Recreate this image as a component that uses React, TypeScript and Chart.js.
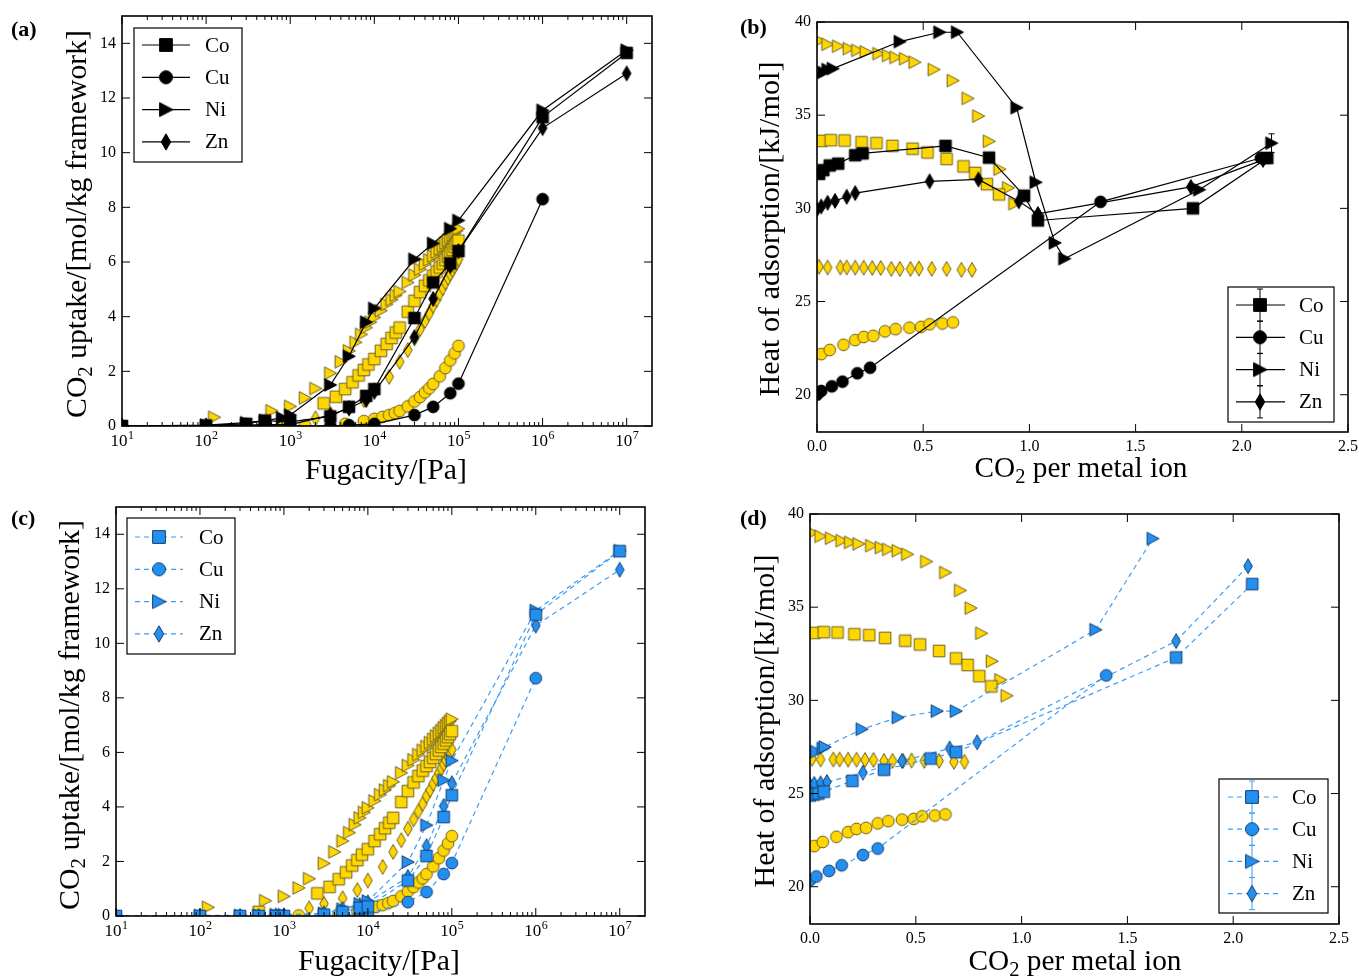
import React, { useEffect, useRef } from 'react';
import { Chart, registerables } from 'chart.js';
Chart.register(...registerables);

const SERIF = '"Liberation Serif", "Times New Roman", Times, serif';

// ---------------- DATA ----------------
// (a) experimental isotherms (black, solid)
const fA_Co = [10, 100, 300, 500, 1000, 3000, 5000, 8000, 10000, 30000, 50000, 80000, 100000, 1e6, 1e7];
const qA_Co = [0, 0.02, 0.08, 0.2, 0.15, 0.35, 0.7, 1.1, 1.35, 3.95, 5.25, 5.95, 6.4, 11.3, 13.65];
const fA_Cu = [10, 100, 300, 500, 1000, 3000, 5000, 10000, 30000, 50000, 80000, 100000, 1e6];
const qA_Cu = [0, 0, 0, 0, 0, 0, 0.03, 0.08, 0.4, 0.7, 1.2, 1.55, 8.3];
const fA_Ni = [10, 100, 300, 500, 800, 1000, 3000, 5000, 8000, 10000, 30000, 50000, 80000, 100000, 1e6, 1e7];
const qA_Ni = [0, 0.03, 0.12, 0.2, 0.3, 0.4, 1.5, 2.55, 3.8, 4.3, 6.1, 6.68, 7.22, 7.52, 11.55, 13.75];
const fA_Zn = [10, 100, 300, 500, 1000, 3000, 5000, 8000, 10000, 30000, 50000, 80000, 100000, 1e6, 1e7];
const qA_Zn = [0, 0.01, 0.03, 0.05, 0.05, 0.4, 0.65, 0.95, 1.25, 3.25, 4.65, 5.85, 6.4, 10.9, 12.9];

// (c) isotherms (blue, dashed)
const fC_Co = [10, 100, 300, 500, 800, 1000, 3000, 5000, 8000, 10000, 30000, 50000, 80000, 100000, 1e6, 1e7];
const qC_Co = [0, 0, 0, 0, 0, 0, 0.05, 0.15, 0.3, 0.35, 1.3, 2.2, 3.63, 4.43, 11.05, 13.38];
const fC_Cu = [10, 100, 300, 500, 800, 1000, 3000, 5000, 8000, 10000, 30000, 50000, 80000, 100000, 1e6];
const qC_Cu = [0, 0, 0, 0, 0, 0, 0, 0.03, 0.05, 0.08, 0.51, 0.88, 1.54, 1.94, 8.72];
const fC_Ni = [10, 100, 300, 500, 800, 1000, 3000, 5000, 8000, 10000, 30000, 50000, 80000, 100000, 1e6, 1e7];
const qC_Ni = [0, 0.02, 0.02, 0.03, 0.05, 0.05, 0.1, 0.25, 0.45, 0.55, 1.98, 3.33, 4.98, 5.7, 11.2, 13.4];
const fC_Zn = [10, 100, 300, 500, 800, 1000, 3000, 5000, 8000, 10000, 30000, 50000, 80000, 100000, 1e6, 1e7];
const qC_Zn = [0, 0, 0, 0, 0.02, 0.02, 0.1, 0.25, 0.4, 0.5, 1.43, 2.56, 4.03, 4.87, 10.65, 12.7];

// (a)/(c) reference isotherms (yellow markers)
const fSim_Co = [500, 2500, 3500, 4500, 5500, 6500, 7500, 8500, 10000, 12000, 14000, 16000, 18000, 20000, 25000, 30000, 35000, 40000, 45000, 50000, 55000, 60000, 65000, 70000, 75000, 80000, 85000, 90000, 95000, 100000];
const qSim_Co = [0.15, 0.83, 1.07, 1.35, 1.6, 1.85, 2.05, 2.25, 2.45, 2.75, 3.0, 3.22, 3.42, 3.6, 4.18, 4.58, 4.9, 5.13, 5.33, 5.5, 5.65, 5.8, 5.94, 6.07, 6.2, 6.32, 6.44, 6.56, 6.67, 6.78];
const fSim_Cu = [800, 1500, 4500, 7500, 10000, 12500, 15000, 17500, 20000, 25000, 30000, 35000, 40000, 45000, 50000, 60000, 70000, 80000, 90000, 100000];
const qSim_Cu = [0.0, 0.02, 0.08, 0.18, 0.26, 0.33, 0.4, 0.47, 0.55, 0.72, 0.9, 1.06, 1.23, 1.38, 1.54, 1.82, 2.12, 2.4, 2.66, 2.93];
const fSim_Ni = [125, 600, 1000, 1500, 2000, 3000, 4000, 5000, 6000, 7000, 8000, 9000, 10000, 12000, 14000, 16000, 18000, 20000, 25000, 30000, 35000, 40000, 45000, 50000, 55000, 60000, 65000, 70000, 75000, 80000, 85000, 90000, 95000, 100000];
const qSim_Ni = [0.32, 0.56, 0.72, 1.03, 1.37, 1.93, 2.35, 2.75, 3.06, 3.35, 3.6, 3.8, 3.97, 4.22, 4.45, 4.62, 4.78, 4.92, 5.25, 5.52, 5.73, 5.92, 6.08, 6.22, 6.36, 6.48, 6.6, 6.7, 6.8, 6.9, 6.98, 7.06, 7.14, 7.22];
const fSim_Zn = [2000, 3000, 5000, 7500, 10000, 15000, 20000, 25000, 30000, 35000, 40000, 45000, 50000, 55000, 60000, 65000, 70000, 75000, 80000, 85000, 90000, 95000, 100000];
const qSim_Zn = [0.28, 0.45, 0.65, 0.95, 1.3, 1.8, 2.35, 2.78, 3.2, 3.54, 3.84, 4.12, 4.4, 4.62, 4.85, 5.05, 5.25, 5.42, 5.57, 5.71, 5.85, 5.97, 6.1];

// (b) heats of adsorption (black, solid)
const nB_Co = [0.01, 0.03, 0.06, 0.1, 0.18, 0.215, 0.605, 0.81, 0.975, 1.04, 1.77, 2.12];
const hB_Co = [31.85, 32.05, 32.3, 32.4, 32.85, 32.95, 33.35, 32.72, 30.68, 29.35, 30.0, 32.7];
const nB_Cu = [0.0, 0.02, 0.07, 0.12, 0.19, 0.25, 1.335, 2.09];
const hB_Cu = [20.0, 20.2, 20.45, 20.7, 21.15, 21.45, 30.35, 32.7];
const nB_Ni = [0.0, 0.03, 0.05, 0.075, 0.39, 0.577, 0.66, 0.94, 1.03, 1.12, 1.165, 1.8, 2.14];
const hB_Ni = [37.15, 37.3, 37.45, 37.5, 38.95, 39.45, 39.45, 35.4, 31.4, 28.15, 27.3, 31.0, 33.5];
const nB_Zn = [0.0, 0.02, 0.05, 0.085, 0.14, 0.18, 0.53, 0.76, 0.95, 1.04, 1.76, 2.1];
const hB_Zn = [29.95, 30.1, 30.3, 30.4, 30.62, 30.82, 31.45, 31.55, 30.38, 29.7, 31.15, 32.6];
// error on the last point of Co, Cu, Ni, Zn in (b)
const errB_last = [0.3, 0.2, 0.5, 0.2];

// (d) heats of adsorption (blue, dashed)
const nD_Co = [0.0, 0.02, 0.04, 0.065, 0.2, 0.35, 0.57, 0.69, 1.73, 2.09];
const hD_Co = [24.9, 24.95, 25.0, 25.1, 25.68, 26.28, 26.88, 27.22, 32.3, 36.24];
const nD_Cu = [0.0, 0.03, 0.09, 0.15, 0.25, 0.32, 1.4];
const hD_Cu = [20.35, 20.55, 20.85, 21.15, 21.7, 22.05, 31.34];
const nD_Ni = [0.0, 0.03, 0.06, 0.07, 0.245, 0.415, 0.6, 0.69, 1.35, 1.62];
const hD_Ni = [27.15, 27.25, 27.42, 27.5, 28.45, 29.08, 29.42, 29.42, 33.79, 38.68];
const nD_Zn = [0.0, 0.02, 0.05, 0.08, 0.25, 0.435, 0.66, 0.79, 1.73, 2.07];
const hD_Zn = [25.45, 25.52, 25.55, 25.62, 26.12, 26.75, 27.42, 27.75, 33.18, 37.2];

// (b)/(d) reference heats (yellow markers)
const nSim_Co = [0.02, 0.065, 0.13, 0.21, 0.28, 0.355, 0.45, 0.52, 0.61, 0.69, 0.745, 0.8, 0.857];
const hSim_Co = [33.62, 33.66, 33.64, 33.55, 33.5, 33.35, 33.2, 33.0, 32.65, 32.25, 31.9, 31.3, 30.75];
const nSim_Cu = [0.02, 0.06, 0.125, 0.18, 0.22, 0.265, 0.32, 0.37, 0.435, 0.49, 0.53, 0.59, 0.64];
const hSim_Cu = [22.18, 22.4, 22.68, 22.93, 23.1, 23.16, 23.4, 23.52, 23.6, 23.64, 23.78, 23.82, 23.88];
const nSim_Ni = [0.01, 0.05, 0.1, 0.15, 0.19, 0.23, 0.29, 0.335, 0.37, 0.415, 0.46, 0.55, 0.64, 0.71, 0.76, 0.81, 0.86, 0.9, 0.93];
const hSim_Ni = [39.0, 38.8, 38.7, 38.57, 38.48, 38.4, 38.3, 38.2, 38.1, 38.03, 37.84, 37.45, 36.86, 35.9, 34.95, 33.6, 32.1, 31.1, 30.25];
const nSim_Zn = [0.01, 0.05, 0.11, 0.14, 0.18, 0.22, 0.26, 0.3, 0.35, 0.39, 0.44, 0.48, 0.54, 0.61, 0.68, 0.73];
const hSim_Zn = [26.87, 26.83, 26.83, 26.83, 26.82, 26.82, 26.8, 26.8, 26.75, 26.75, 26.75, 26.77, 26.75, 26.75, 26.7, 26.7];

// axes / ticks
const isoTicksY = [0, 2, 4, 6, 8, 10, 12, 14];
const isoDecades = [1, 2, 3, 4, 5, 6, 7];
const heatTicksY = [20, 25, 30, 35, 40];
const heatTicksX = [0, 0.5, 1.0, 1.5, 2.0, 2.5];
const metals = ['Co', 'Cu', 'Ni', 'Zn'];

// ---------------- STYLE ----------------
const YELLOW = '#FFD700';
const YELLOW_EDGE = '#6e6020';
const BLUE = '#2390f0';
const BLUE_EDGE = '#123f73';
const BLUE_LINE = '#3d9df5';

type Shape = 'sq' | 'ci' | 'tr' | 'di';
const SHAPES: Shape[] = ['sq', 'ci', 'tr', 'di'];

function makeMarker(shape: Shape, fill: string, edge: string, k = 1): HTMLCanvasElement {
  const S = 22;
  const c = document.createElement('canvas');
  c.width = S; c.height = S;
  const g = c.getContext('2d')!;
  g.translate(S / 2, S / 2);
  g.scale(k, k);
  g.beginPath();
  if (shape === 'sq') g.rect(-5.8, -5.8, 11.6, 11.6);
  else if (shape === 'ci') g.arc(0, 0, 5.9, 0, Math.PI * 2);
  else if (shape === 'tr') { g.moveTo(6.3, 0); g.lineTo(-5.8, -6.3); g.lineTo(-5.8, 6.3); g.closePath(); }
  else { g.moveTo(0, -7.4); g.lineTo(4.3, 0); g.lineTo(0, 7.4); g.lineTo(-4.3, 0); g.closePath(); }
  g.fillStyle = fill; g.fill();
  g.lineWidth = 1 / k; g.strokeStyle = edge; g.stroke();
  return c;
}

type Seg = { t: string; sub?: boolean };

function segsWidth(ctx: CanvasRenderingContext2D, segs: Seg[], size: number) {
  let w = 0;
  for (const s of segs) {
    ctx.font = `${s.sub ? size * 0.7 : size}px ${SERIF}`;
    w += ctx.measureText(s.t).width;
  }
  return w;
}

function drawTitle(ctx: CanvasRenderingContext2D, segs: Seg[], cx: number, cy: number, len: number, rot: boolean) {
  const size = (20 * len) / segsWidth(ctx, segs, 20);
  const tw = segsWidth(ctx, segs, size);
  ctx.save();
  ctx.translate(cx, cy);
  if (rot) ctx.rotate(-Math.PI / 2);
  ctx.textAlign = 'left';
  ctx.textBaseline = 'alphabetic';
  ctx.fillStyle = '#000';
  let x = -tw / 2;
  const base = size * 0.26;
  for (const s of segs) {
    const fs = s.sub ? size * 0.7 : size;
    ctx.font = `${fs}px ${SERIF}`;
    ctx.fillText(s.t, x, base + (s.sub ? size * 0.22 : 0));
    x += ctx.measureText(s.t).width;
  }
  ctx.restore();
}

interface Geo { ox: number; oy: number; w: number; h: number; l: number; t: number; r: number; b: number; }
interface Panel {
  geo: Geo;
  label: string; labelAt: [number, number];
  xTitle: Seg[]; xTitleAt: [number, number, number];
  yTitle: Seg[]; yTitleAt: [number, number, number];
  xLog: boolean; xMin: number; xMax: number; yMin: number; yMax: number;
  yTicks: number[];
  legend: { box: [number, number, number, number]; y0: number; dy: number; line: [number, number]; mx: number; tx: number; color: string; dash: number[]; err: boolean; markers: HTMLCanvasElement[] };
  errLast?: { ds: number[]; err: number[]; color: string };
  datasets: any[];
}

function decoPlugin(p: Panel) {
  return {
    id: 'deco' + p.label,
    afterDatasetsDraw(chart: any) {
      const ctx: CanvasRenderingContext2D = chart.ctx;
      const ca = chart.chartArea;
      const xs = chart.scales.x, ys = chart.scales.y;
      const { ox, oy } = p.geo;
      const L = ca.left, R = ca.right, T = ca.top, B = ca.bottom;
      ctx.save();
      ctx.strokeStyle = '#000';
      ctx.fillStyle = '#000';
      const line = (x1: number, y1: number, x2: number, y2: number) => {
        ctx.beginPath(); ctx.moveTo(x1, y1); ctx.lineTo(x2, y2); ctx.stroke();
      };
      if (p.errLast) {
        ctx.save();
        ctx.strokeStyle = p.errLast.color; ctx.lineWidth = 1;
        p.errLast.ds.forEach((di, k) => {
          const d = chart.data.datasets[di].data;
          const pt = d[d.length - 1];
          const x = xs.getPixelForValue(pt.x);
          const y1 = ys.getPixelForValue(pt.y - p.errLast!.err[k]);
          const y2 = ys.getPixelForValue(pt.y + p.errLast!.err[k]);
          line(x, y1, x, y2); line(x - 3, y1, x + 3, y1); line(x - 3, y2, x + 3, y2);
        });
        ctx.restore();
      }
      // frame
      ctx.lineWidth = 1.6;
      ctx.strokeRect(L, T, R - L, B - T);
      ctx.lineWidth = 1;
      // x ticks
      if (p.xLog) {
        for (const n of isoDecades) {
          const x = xs.getPixelForValue(Math.pow(10, n));
          line(x, B, x, B - 8); line(x, T, x, T + 8);
          for (let k = 2; k <= 9; k++) {
            const v = k * Math.pow(10, n);
            if (v >= p.xMax) break;
            const xm = xs.getPixelForValue(v);
            line(xm, B, xm, B - 4); line(xm, T, xm, T + 4);
          }
          ctx.font = `17px ${SERIF}`;
          const w1 = ctx.measureText('10').width;
          ctx.font = `12px ${SERIF}`;
          const w2 = ctx.measureText(String(n)).width;
          const sx = x - (w1 + w2) / 2;
          ctx.textAlign = 'left'; ctx.textBaseline = 'alphabetic';
          ctx.font = `17px ${SERIF}`;
          ctx.fillText('10', sx, B + 20);
          ctx.font = `12px ${SERIF}`;
          ctx.fillText(String(n), sx + w1 + 0.5, B + 13);
        }
      } else {
        ctx.textAlign = 'center'; ctx.textBaseline = 'alphabetic';
        ctx.font = `16px ${SERIF}`;
        for (const v of heatTicksX) {
          const x = xs.getPixelForValue(v);
          line(x, B, x, B - 8); line(x, T, x, T + 8);
          ctx.fillText(v.toFixed(1), x, B + 19);
        }
      }
      // y ticks
      ctx.textAlign = 'right'; ctx.textBaseline = 'middle';
      ctx.font = `16px ${SERIF}`;
      for (const v of p.yTicks) {
        const y = ys.getPixelForValue(v);
        line(L, y, L + 8, y); line(R, y, R - 8, y);
        ctx.fillText(String(v), L - 6, y);
      }
      // titles
      drawTitle(ctx, p.xTitle, p.xTitleAt[0] - ox, p.xTitleAt[1] - oy, p.xTitleAt[2], false);
      drawTitle(ctx, p.yTitle, p.yTitleAt[0] - ox, p.yTitleAt[1] - oy, p.yTitleAt[2], true);
      // panel label
      ctx.font = `bold 22px ${SERIF}`;
      ctx.textAlign = 'left'; ctx.textBaseline = 'middle';
      ctx.fillStyle = '#000';
      ctx.fillText(p.label, p.labelAt[0] - ox, p.labelAt[1] - oy);
      // legend
      const lg = p.legend;
      const [bx0, by0, bx1, by1] = lg.box;
      ctx.fillStyle = '#fff';
      ctx.fillRect(bx0 - ox, by0 - oy, bx1 - bx0, by1 - by0);
      ctx.strokeStyle = '#000'; ctx.lineWidth = 1.2;
      ctx.strokeRect(bx0 - ox, by0 - oy, bx1 - bx0, by1 - by0);
      metals.forEach((m, i) => {
        const y = lg.y0 + i * lg.dy - oy;
        ctx.save();
        ctx.strokeStyle = lg.color; ctx.lineWidth = 1.2;
        ctx.setLineDash(lg.dash);
        line(lg.line[0] - ox, y, lg.line[1] - ox, y);
        ctx.setLineDash([]);
        if (lg.err) {
          const x = lg.mx - ox;
          ctx.lineWidth = 1;
          line(x, y - 16, x, y + 16); line(x - 3, y - 16, x + 3, y - 16); line(x - 3, y + 16, x + 3, y + 16);
        }
        ctx.restore();
        const mk = lg.markers[i];
        ctx.drawImage(mk, lg.mx - ox - mk.width / 2, y - mk.height / 2);
        ctx.fillStyle = '#000';
        ctx.font = `21px ${SERIF}`;
        ctx.textAlign = 'left'; ctx.textBaseline = 'middle';
        ctx.fillText(m, lg.tx - ox, y + 1);
      });
      ctx.restore();
    },
  };
}

function pts(xs: number[], ys: number[]) {
  return xs.map((x, i) => ({ x, y: ys[i] }));
}

function ds(xs: number[], ys: number[], marker: HTMLCanvasElement, color: string | null, dash: number[] = []) {
  return {
    data: pts(xs, ys),
    showLine: !!color,
    borderColor: color || 'rgba(0,0,0,0)',
    backgroundColor: 'rgba(0,0,0,0)',
    borderWidth: 1.2,
    borderDash: dash,
    pointStyle: marker,
    pointRadius: 6,
    pointHoverRadius: 6,
    tension: 0,
  };
}

function buildPanels(): Panel[] {
  const mk = (fill: string, edge: string, k = 1) => SHAPES.map((s) => makeMarker(s, fill, edge, k));
  const blk = mk('#000', '#000');
  const yel = mk(YELLOW, YELLOW_EDGE);
  const blu = mk(BLUE, BLUE_EDGE);
  const blkL = mk('#000', '#000', 1.1);
  const bluL = mk(BLUE, BLUE_EDGE, 1.1);
  const dash = [5, 4];
  const isoTitle: Seg[] = [{ t: 'CO' }, { t: '2', sub: true }, { t: ' uptake/[mol/kg framework]' }];
  const fugTitle: Seg[] = [{ t: 'Fugacity/[Pa]' }];
  const heatTitle: Seg[] = [{ t: 'Heat of adsorption/[kJ/mol]' }];
  const perTitle: Seg[] = [{ t: 'CO' }, { t: '2', sub: true }, { t: ' per metal ion' }];

  const simIso = [
    ds(fSim_Co, qSim_Co, yel[0], null), ds(fSim_Cu, qSim_Cu, yel[1], null),
    ds(fSim_Ni, qSim_Ni, yel[2], null), ds(fSim_Zn, qSim_Zn, yel[3], null),
  ];
  const simHeat = [
    ds(nSim_Co, hSim_Co, yel[0], null), ds(nSim_Cu, hSim_Cu, yel[1], null),
    ds(nSim_Ni, hSim_Ni, yel[2], null), ds(nSim_Zn, hSim_Zn, yel[3], null),
  ];

  return [
    {
      geo: { ox: 0, oy: 0, w: 680, h: 488, l: 122, t: 16, r: 652, b: 426 },
      label: '(a)', labelAt: [11, 30],
      xTitle: fugTitle, xTitleAt: [386, 471, 162],
      yTitle: isoTitle, yTitleAt: [78, 224, 388],
      xLog: true, xMin: 10, xMax: 2e7, yMin: 0, yMax: 15, yTicks: isoTicksY,
      legend: { box: [134, 28, 242, 162], y0: 45, dy: 32.3, line: [142, 190], mx: 166, tx: 205, color: '#000', dash: [], err: false, markers: blkL },
      datasets: [
        ds(fA_Co, qA_Co, blk[0], '#000'), ds(fA_Cu, qA_Cu, blk[1], '#000'),
        ds(fA_Ni, qA_Ni, blk[2], '#000'), ds(fA_Zn, qA_Zn, blk[3], '#000'),
        ...simIso,
      ],
    },
    {
      geo: { ox: 680, oy: 0, w: 679, h: 488, l: 817, t: 22, r: 1348, b: 432 },
      label: '(b)', labelAt: [740, 28],
      xTitle: perTitle, xTitleAt: [1081, 469, 213],
      yTitle: heatTitle, yTitleAt: [771, 229, 335],
      xLog: false, xMin: 0, xMax: 2.5, yMin: 18, yMax: 40, yTicks: heatTicksY,
      legend: { box: [1228, 287, 1334, 422], y0: 305, dy: 32.3, line: [1236, 1285], mx: 1260, tx: 1299, color: '#000', dash: [], err: true, markers: blkL },
      errLast: { ds: [0, 1, 2, 3], err: errB_last, color: '#000' },
      datasets: [
        ds(nB_Co, hB_Co, blk[0], '#000'), ds(nB_Cu, hB_Cu, blk[1], '#000'),
        ds(nB_Ni, hB_Ni, blk[2], '#000'), ds(nB_Zn, hB_Zn, blk[3], '#000'),
        ...simHeat,
      ],
    },
    {
      geo: { ox: 0, oy: 488, w: 680, h: 489, l: 116, t: 507, r: 645, b: 916 },
      label: '(c)', labelAt: [11, 519],
      xTitle: fugTitle, xTitleAt: [379, 962, 162],
      yTitle: isoTitle, yTitleAt: [71, 715, 390],
      xLog: true, xMin: 10, xMax: 2e7, yMin: 0, yMax: 15, yTicks: isoTicksY,
      legend: { box: [127, 518, 235, 654], y0: 537, dy: 32.3, line: [135, 183], mx: 159, tx: 199, color: BLUE_LINE, dash, err: false, markers: bluL },
      datasets: [
        ds(fC_Co, qC_Co, blu[0], BLUE_LINE, dash), ds(fC_Cu, qC_Cu, blu[1], BLUE_LINE, dash),
        ds(fC_Ni, qC_Ni, blu[2], BLUE_LINE, dash), ds(fC_Zn, qC_Zn, blu[3], BLUE_LINE, dash),
        ...simIso,
      ],
    },
    {
      geo: { ox: 680, oy: 488, w: 679, h: 489, l: 810, t: 514, r: 1339, b: 924 },
      label: '(d)', labelAt: [740, 519],
      xTitle: perTitle, xTitleAt: [1075, 962, 213],
      yTitle: heatTitle, yTitleAt: [766, 721, 333],
      xLog: false, xMin: 0, xMax: 2.5, yMin: 18, yMax: 40, yTicks: heatTicksY,
      legend: { box: [1219, 779, 1328, 913], y0: 797, dy: 32.2, line: [1228, 1278], mx: 1252, tx: 1292, color: BLUE_LINE, dash, err: true, markers: bluL },
      datasets: [
        ds(nD_Co, hD_Co, blu[0], BLUE_LINE, dash), ds(nD_Cu, hD_Cu, blu[1], BLUE_LINE, dash),
        ds(nD_Ni, hD_Ni, blu[2], BLUE_LINE, dash), ds(nD_Zn, hD_Zn, blu[3], BLUE_LINE, dash),
        ...simHeat,
      ],
    },
  ];
}

const GEOS = [
  { ox: 0, oy: 0, w: 680, h: 488 },
  { ox: 680, oy: 0, w: 679, h: 488 },
  { ox: 0, oy: 488, w: 680, h: 489 },
  { ox: 680, oy: 488, w: 679, h: 489 },
];

export default function App() {
  const r0 = useRef<HTMLCanvasElement>(null);
  const r1 = useRef<HTMLCanvasElement>(null);
  const r2 = useRef<HTMLCanvasElement>(null);
  const r3 = useRef<HTMLCanvasElement>(null);
  const refs = [r0, r1, r2, r3];

  useEffect(() => {
    const panels = buildPanels();
    const charts = panels.map((p, i) => {
      const g = p.geo;
      return new Chart(refs[i].current!, {
        type: 'scatter',
        data: { datasets: p.datasets },
        options: {
          responsive: false,
          animation: false,
          devicePixelRatio: 1,
          events: [],
          layout: { padding: { left: 0, top: g.t - g.oy, right: g.ox + g.w - g.r, bottom: 0 } },
          plugins: { legend: { display: false }, tooltip: { enabled: false } },
          scales: {
            x: {
              type: p.xLog ? 'logarithmic' : 'linear',
              min: p.xMin, max: p.xMax,
              ticks: { display: false },
              grid: { display: false },
              border: { display: false },
              afterFit: (s: any) => { s.height = g.oy + g.h - g.b; },
            },
            y: {
              type: 'linear',
              min: p.yMin, max: p.yMax,
              ticks: { display: false },
              grid: { display: false },
              border: { display: false },
              afterFit: (s: any) => { s.width = g.l - g.ox; },
            },
          },
        } as any,
        plugins: [decoPlugin(p)],
      });
    });
    return () => charts.forEach((c) => c.destroy());
  }, []);

  return (
    <div style={{ position: 'absolute', left: 0, top: 0, width: 1359, height: 977, background: '#fff', overflow: 'hidden' }}>
      {GEOS.map((g, i) => (
        <canvas
          key={i}
          ref={refs[i]}
          width={g.w}
          height={g.h}
          style={{ position: 'absolute', left: g.ox, top: g.oy, width: g.w, height: g.h }}
        />
      ))}
    </div>
  );
}
